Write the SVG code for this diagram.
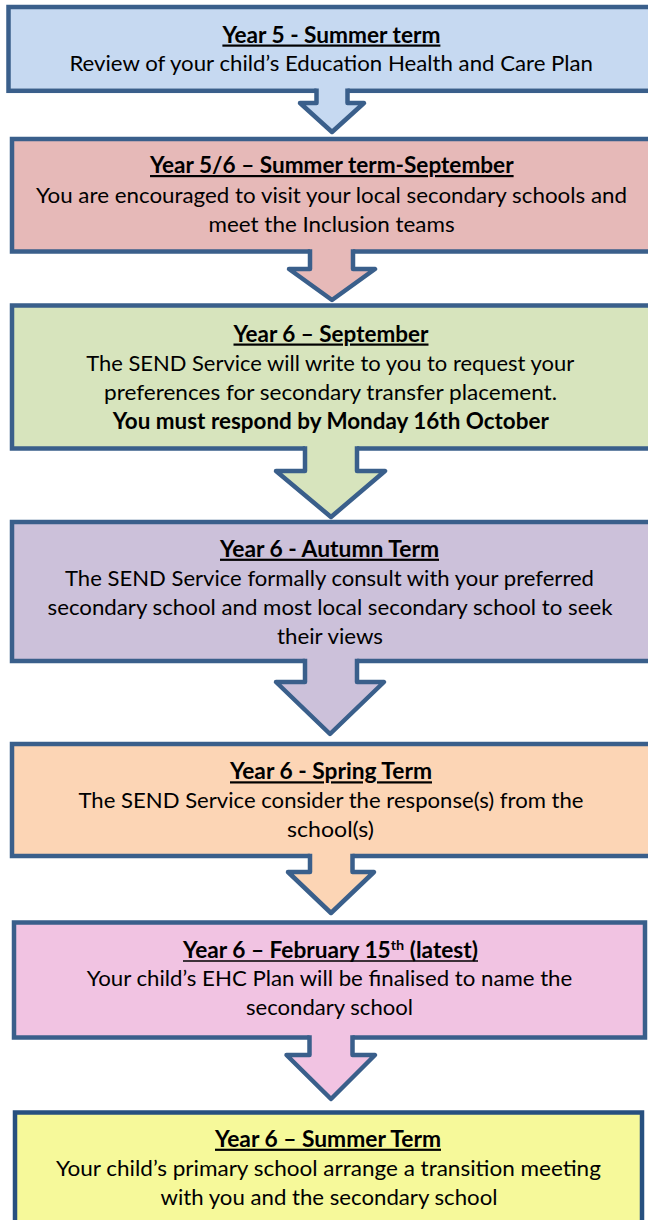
<svg xmlns="http://www.w3.org/2000/svg" width="648" height="1220" viewBox="0 0 648 1220">
<style>
.box{stroke:#3A5F8B;stroke-width:4.5}
.dark{stroke:#27507F}
.t{font-family:Lato,"Open Sans","Liberation Sans",sans-serif;font-size:22px;font-weight:bold;text-decoration:underline;fill:#000;text-anchor:middle}
.b{font-family:Lato,"Open Sans","Liberation Sans",sans-serif;font-size:22px;fill:#000;text-anchor:middle}
.bb{font-weight:bold}
.ol{stroke:#3A5F8B;stroke-width:4.5;fill:none;stroke-linejoin:round}
.ul{stroke:#000;stroke-width:1.6}
</style>
<rect width="648" height="1220" fill="#FFFFFF"/>
<g id="node1">
<rect class="box" x="8.5" y="7" width="660" height="83.8" fill="#C6D9F1"/>
<text class="t" x="331.4" y="42.5" textLength="218" lengthAdjust="spacingAndGlyphs">Year 5 - Summer term</text>
<text class="b" x="331.2" y="71" textLength="523.6" lengthAdjust="spacingAndGlyphs">Review of your child’s Education Health and Care Plan</text>
</g>
<g id="node2">
<rect class="box" x="12" y="139" width="660" height="112.5" fill="#E6B9B8"/>
<text class="t" x="331.8" y="173" textLength="363.6" lengthAdjust="spacingAndGlyphs">Year 5/6 – Summer term-September</text>
<text class="b" x="331.5" y="203" textLength="591" lengthAdjust="spacingAndGlyphs">You are encouraged to visit your local secondary schools and</text>
<text class="b" x="331.6" y="232" textLength="246" lengthAdjust="spacingAndGlyphs">meet the Inclusion teams</text>
</g>
<g id="node3">
<rect class="box" x="12" y="305.5" width="660" height="143" fill="#D7E4BD"/>
<text class="t" x="331" y="341.5" textLength="195" lengthAdjust="spacingAndGlyphs">Year 6 – September</text>
<text class="b" x="330.2" y="370.7" textLength="488" lengthAdjust="spacingAndGlyphs">The SEND Service will write to you to request your</text>
<text class="b" x="330.5" y="400" textLength="453" lengthAdjust="spacingAndGlyphs">preferences for secondary transfer placement.</text>
<text class="b bb" x="330.8" y="429.3" textLength="436" lengthAdjust="spacingAndGlyphs">You must respond by Monday 16th October</text>
</g>
<g id="node4">
<rect class="box" x="12" y="522" width="660" height="139" fill="#CCC1DA"/>
<text class="t" x="329.5" y="556.7" textLength="219" lengthAdjust="spacingAndGlyphs">Year 6 - Autumn Term</text>
<text class="b" x="329.5" y="585.7" textLength="529" lengthAdjust="spacingAndGlyphs">The SEND Service formally consult with your preferred</text>
<text class="b" x="330" y="615" textLength="565" lengthAdjust="spacingAndGlyphs">secondary school and most local secondary school to seek</text>
<text class="b" x="330" y="644" textLength="106" lengthAdjust="spacingAndGlyphs">their views</text>
</g>
<g id="node5">
<rect class="box" x="12" y="744" width="660" height="112" fill="#FCD5B5"/>
<text class="t" x="331" y="779.3" textLength="202" lengthAdjust="spacingAndGlyphs">Year 6 - Spring Term</text>
<text class="b" x="331" y="808.3" textLength="505" lengthAdjust="spacingAndGlyphs">The SEND Service consider the response(s) from the</text>
<text class="b" x="330.5" y="837.3" textLength="87" lengthAdjust="spacingAndGlyphs">school(s)</text>
</g>
<g id="node6">
<rect class="box" x="14" y="922.5" width="631" height="115" fill="#F1C3E2"/>
<text class="b bb" x="330.5" y="958" textLength="295" lengthAdjust="spacingAndGlyphs">Year 6 – February 15<tspan font-size="14" dy="-8">th</tspan><tspan dy="8"> (latest)</tspan></text>
<line class="ul" x1="183" y1="961" x2="478" y2="961"/>
<text class="b" x="329.5" y="986" textLength="485.5" lengthAdjust="spacingAndGlyphs">Your child’s EHC Plan will be finalised to name the</text>
<text class="b" x="329.5" y="1015" textLength="167" lengthAdjust="spacingAndGlyphs">secondary school</text>
</g>
<g id="node7">
<rect class="box dark" x="15" y="1112.5" width="627" height="120" fill="#F6F99A"/>
<text class="t" x="328" y="1146.7" textLength="226" lengthAdjust="spacingAndGlyphs">Year 6 – Summer Term</text>
<text class="b" x="328.4" y="1176" textLength="545" lengthAdjust="spacingAndGlyphs">Your child’s primary school arrange a transition meeting</text>
<text class="b" x="329" y="1205" textLength="337" lengthAdjust="spacingAndGlyphs">with you and the secondary school</text>
</g>
<g id="connectors">
<polygon fill="#C6D9F1" points="316.5,87.8 316.5,103 300,103 332,132 364,103 347.5,103 347.5,87.8"/>
<polyline class="ol" points="316.5,88.5 316.5,103 300,103 332,132 364,103 347.5,103 347.5,88.5"/>
<polygon fill="#E6B9B8" points="310,248.5 310,269 289,269 332,300 375,269 353,269 353,248.5"/>
<polyline class="ol" points="310,249.2 310,269 289,269 332,300 375,269 353,269 353,249.2"/>
<polygon fill="#D7E4BD" points="305,445.5 305,471 276,471 331,517 385,471 357,471 357,445.5"/>
<polyline class="ol" points="305,446.2 305,471 276,471 331,517 385,471 357,471 357,446.2"/>
<polygon fill="#CCC1DA" points="305,658 305,682 276,682 330,734 384,682 357,682 357,658"/>
<polyline class="ol" points="305,658.7 305,682 276,682 330,734 384,682 357,682 357,658.7"/>
<polygon fill="#FCD5B5" points="310,853 310,872 288,872 331,913 374,872 352.5,872 352.5,853"/>
<polyline class="ol" points="310,853.7 310,872 288,872 331,913 374,872 352.5,872 352.5,853.7"/>
<polygon fill="#F1C3E2" points="309.5,1034.5 309.5,1055 286.5,1055 331,1099 375,1055 352.5,1055 352.5,1034.5"/>
<polyline class="ol" points="309.5,1035.2 309.5,1055 286.5,1055 331,1099 375,1055 352.5,1055 352.5,1035.2"/>
</g>
</svg>
